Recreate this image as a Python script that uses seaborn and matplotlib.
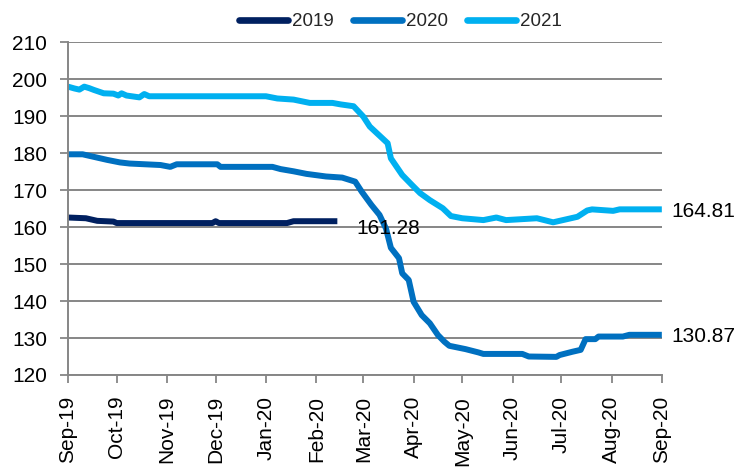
import matplotlib
matplotlib.use("Agg")
import matplotlib.pyplot as plt
import matplotlib.dates as mdates
import seaborn as sns
import pandas as pd

dates_2019 = ["2019-09-01", "2019-09-12", "2019-09-19", "2019-09-29", "2019-10-01",
              "2019-11-29", "2019-12-01", "2019-12-03", "2020-01-14", "2020-01-18",
              "2020-02-14"]
vals_2019 = [162.6, 162.4, 161.7, 161.5, 161.1, 161.1, 161.6, 161.1, 161.1, 161.6, 161.6]

dates_2020 = ["2019-09-01", "2019-09-10", "2019-09-17", "2019-09-25", "2019-10-03",
              "2019-10-09", "2019-10-28", "2019-11-03", "2019-11-07", "2019-12-02",
              "2019-12-04", "2020-01-05", "2020-01-10", "2020-01-18", "2020-01-26",
              "2020-02-07", "2020-02-17", "2020-02-25", "2020-02-29", "2020-03-06",
              "2020-03-11", "2020-03-15", "2020-03-18", "2020-03-23", "2020-03-25",
              "2020-03-29", "2020-04-01", "2020-04-06", "2020-04-11", "2020-04-16",
              "2020-04-20", "2020-04-23", "2020-05-03", "2020-05-11", "2020-05-14",
              "2020-06-07", "2020-06-11", "2020-06-28", "2020-06-30", "2020-07-08",
              "2020-07-13", "2020-07-16", "2020-07-22", "2020-07-24", "2020-08-08",
              "2020-08-12", "2020-09-01"]
vals_2020 = [179.7, 179.7, 179.0, 178.2, 177.5,
             177.2, 176.8, 176.3, 177.0, 177.0,
             176.3, 176.3, 175.7, 175.1, 174.4,
             173.7, 173.4, 172.3, 169.6, 166.0,
             163.3, 159.6, 154.4, 151.6, 147.5,
             145.7, 139.8, 136.2, 134.0, 130.8,
             129.0, 127.9, 127.0, 126.1, 125.7,
             125.7, 125.0, 124.9, 125.4, 126.3,
             126.8, 129.7, 129.7, 130.4, 130.4,
             130.87, 130.87]

dates_2021 = ["2019-09-01", "2019-09-05", "2019-09-08", "2019-09-11", "2019-09-14",
              "2019-09-17", "2019-09-23", "2019-09-29", "2019-10-02", "2019-10-04",
              "2019-10-07", "2019-10-15", "2019-10-18", "2019-10-21", "2020-01-01",
              "2020-01-08", "2020-01-18", "2020-01-28", "2020-02-11", "2020-02-16",
              "2020-02-24", "2020-03-01", "2020-03-05", "2020-03-16", "2020-03-18",
              "2020-03-25", "2020-03-31", "2020-04-05", "2020-04-11", "2020-04-19",
              "2020-04-24", "2020-05-01", "2020-05-14", "2020-05-22", "2020-05-28",
              "2020-06-16", "2020-06-26", "2020-07-04", "2020-07-11", "2020-07-17",
              "2020-07-20", "2020-08-02", "2020-08-06", "2020-09-01"]
vals_2021 = [198.0, 197.5, 197.2, 198.0, 197.6,
             197.1, 196.2, 196.1, 195.6, 196.2,
             195.6, 195.1, 196.0, 195.4, 195.4,
             194.8, 194.5, 193.6, 193.6, 193.2,
             192.7, 189.9, 187.2, 182.7, 178.6,
             174.1, 171.4, 169.2, 167.3, 165.1,
             163.0, 162.4, 161.9, 162.6, 161.9,
             162.4, 161.3, 162.1, 162.8, 164.5,
             164.8, 164.4, 164.81, 164.81]

series_names = ["2019", "2020", "2021"]
colors = ["#002060", "#0070C0", "#00B0F0"]
end_labels = ["161.28", "164.81", "130.87"]
tick_dates = pd.date_range("2019-09-01", "2020-09-01", freq="MS")

frames = []
for name, d, v in zip(series_names, [dates_2019, dates_2020, dates_2021],
                      [vals_2019, vals_2020, vals_2021]):
    frames.append(pd.DataFrame({"date": pd.to_datetime(d), "value": v, "series": name}))
df = pd.concat(frames, ignore_index=True)

sns.set_theme(style="white")
plt.rcParams["font.family"] = ["Liberation Sans", "DejaVu Sans"]

fig = plt.figure(figsize=(7.37, 4.73), dpi=100)
ax = fig.add_axes([0.0923, 0.2072, 0.8057, 0.7034])

sns.lineplot(data=df, x="date", y="value", hue="series", palette=colors,
             hue_order=series_names, linewidth=4.3, ax=ax, estimator=None,
             solid_capstyle="butt")

ax.set_ylim(120, 210)
ax.set_yticks(range(120, 211, 10))
ax.set_xlim(tick_dates[0], tick_dates[-1])
ax.set_xticks(tick_dates)
ax.xaxis.set_major_formatter(mdates.DateFormatter("%b-%y"))
ax.tick_params(axis="x", rotation=90, labelsize=15, length=6, width=1.3,
               color="#868686", pad=9, bottom=True)
ax.tick_params(axis="y", labelsize=15, length=6, width=1.3, color="#868686",
               pad=9, left=True)
for lab in ax.get_xticklabels() + ax.get_yticklabels():
    lab.set_color("black")

ax.grid(axis="y", color="#868686", linewidth=1.4)
ax.grid(axis="x", visible=False)
ax.set_axisbelow(True)
for s in ["top", "right"]:
    ax.spines[s].set_visible(False)
for s in ["left", "bottom"]:
    ax.spines[s].set_color("#868686")
    ax.spines[s].set_linewidth(1.4)
ax.set_xlabel("")
ax.set_ylabel("")

# end-value labels
ax.annotate(end_labels[0], xy=(pd.Timestamp(dates_2019[-1]), vals_2019[-1]),
            xytext=(14, -5), textcoords="offset points", fontsize=15,
            va="center", ha="left", color="black")
ax.annotate(end_labels[1], xy=(pd.Timestamp(dates_2021[-1]), vals_2021[-1]),
            xytext=(7, -1.5), textcoords="offset points", fontsize=15,
            va="center", ha="left", color="black", annotation_clip=False)
ax.annotate(end_labels[2], xy=(pd.Timestamp(dates_2020[-1]), vals_2020[-1]),
            xytext=(7, -1.5), textcoords="offset points", fontsize=15,
            va="center", ha="left", color="black", annotation_clip=False)

leg = ax.legend(loc="center", bbox_to_anchor=(0.676, 1.0), ncol=3,
                frameon=False, fontsize=13.5, handlelength=2.6, columnspacing=1.05,
                handletextpad=0.2, borderaxespad=0.0, borderpad=0.0)
leg.set_bbox_to_anchor((400.5 / 737, 1 - 21.7 / 473), transform=fig.transFigure)
for line in leg.get_lines():
    line.set_linewidth(4.8)
    line.set_solid_capstyle("round")

fig.savefig("out.png", dpi=100)
